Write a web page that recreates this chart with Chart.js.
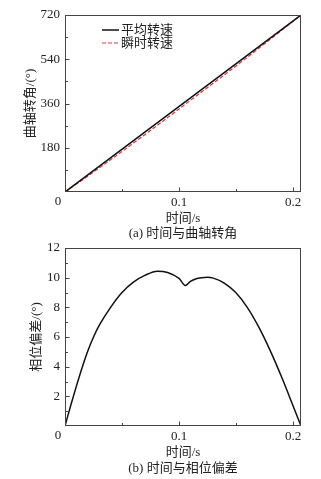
<!DOCTYPE html>
<html><head><meta charset="utf-8">
<script src="https://cdn.jsdelivr.net/npm/chart.js@4.4.0/dist/chart.umd.min.js"></script>
<style>
html,body{margin:0;padding:0;background:#fff;width:321px;height:479px;overflow:hidden;}
.wrap{position:absolute;left:0;width:321px;}
canvas{display:block;}
.cap{position:absolute;left:0;width:366px;text-align:center;font:13px "Liberation Serif","Noto Sans CJK SC";line-height:16px;color:#222;}
</style></head><body>
<div class="wrap" style="top:0;height:226px"><canvas id="c1" width="321" height="226"></canvas></div>
<div class="cap" style="top:225px">(a) 时间与曲轴转角</div>
<div class="wrap" style="top:234px;height:226px"><canvas id="c2" width="321" height="226"></canvas></div>
<div class="cap" style="top:460px">(b) 时间与相位偏差</div>
<script>
// ---- data ----
const xMajorTicks = [0.1, 0.2];
const xMinorTicks = [0.05, 0.15];
const angleMajorTicks = [180, 360, 540, 720];
const angleMinorTicks = [90, 270, 450, 630];
const devMajorTicks = [2, 4, 6, 8, 10, 12];
const devMinorTicks = [1, 3, 5, 7, 9, 11];

const avgTime = [0, 0.207];
const avgAngle = [0, 720];

const sampleTime = [0,0.005,0.01,0.015,0.02,0.025,0.03,0.04,0.05,0.06,0.07,0.081,0.09,0.1,0.1055,0.11,0.115,0.12,0.125,0.13,0.14,0.15,0.16,0.17,0.18,0.19,0.2,0.207];
const instAngle = [0,16.0,32.1,48.2,64.5,81.0,97.6,131.1,164.9,199.0,233.3,271.3,302.7,337.9,357.5,372.9,390.1,407.4,424.8,442.2,477.3,512.8,548.5,584.6,621.0,657.6,694.3,720];
const phaseDev = [0,1.38,2.69,3.93,5.05,6.0,6.78,8.0,9.0,9.7,10.15,10.44,10.35,9.95,9.47,9.75,9.93,10.0,10.02,9.97,9.62,8.98,7.98,6.66,5.08,3.3,1.37,0];

const legendLabels = ['平均转速', '瞬时转速'];

// ---- helpers ----
const FONT = '"Liberation Serif", "Noto Sans CJK SC", serif';
const TXT = '#222';
const pts = (xs, ys) => xs.map((x, i) => ({x, y: ys[i]}));

const framePlugin = {
  id: 'frame',
  afterDraw(chart, args, o) {
    const {ctx, chartArea: a, scales: {x, y}} = chart;
    ctx.save();
    ctx.strokeStyle = '#444';
    ctx.lineWidth = 1;
    const L = Math.round(a.left) + 0.5, R = Math.round(a.right) - 0.5;
    const T = Math.round(a.top) + 0.5, B = Math.round(a.bottom) - 0.5;
    ctx.strokeRect(L, T, R - L, B - T);
    ctx.beginPath();
    o.xMajor.forEach(v => { const p = Math.round(x.getPixelForValue(v)) + 0.5; ctx.moveTo(p, B); ctx.lineTo(p, B - 4); });
    o.xMinor.forEach(v => { const p = Math.round(x.getPixelForValue(v)) + 0.5; ctx.moveTo(p, B); ctx.lineTo(p, B - 2.5); });
    o.yMajor.forEach(v => { const p = Math.round(y.getPixelForValue(v)) + 0.5; ctx.moveTo(L, p); ctx.lineTo(L + 4, p); });
    o.yMinor.forEach(v => { const p = Math.round(y.getPixelForValue(v)) + 0.5; ctx.moveTo(L, p); ctx.lineTo(L + 2.5, p); });
    ctx.stroke();
    ctx.fillStyle = TXT;
    ctx.font = '13px ' + FONT;
    ctx.textAlign = 'center';
    ctx.textBaseline = 'middle';
    ctx.fillText('0', a.left - 7, a.bottom + 10);
    if (o.legend) {
      const lx = a.left + 37, tx = a.left + 56;
      const rows = [a.top + 15, a.top + 28];
      ctx.textAlign = 'left';
      ctx.lineWidth = 1.5;
      ctx.strokeStyle = '#111';
      ctx.setLineDash([]);
      ctx.beginPath(); ctx.moveTo(lx, rows[0]); ctx.lineTo(lx + 17, rows[0]); ctx.stroke();
      ctx.strokeStyle = '#e0363a';
      ctx.lineWidth = 1.2;
      ctx.setLineDash([4, 2]);
      ctx.beginPath(); ctx.moveTo(lx, rows[1]); ctx.lineTo(lx + 17, rows[1]); ctx.stroke();
      ctx.setLineDash([]);
      ctx.fillText(o.legend[0], tx, rows[0] + 1);
      ctx.fillText(o.legend[1], tx, rows[1] + 1);
    }
    ctx.restore();
  }
};

function makeScales(yMin, yMax, yMajor, yMinor, yTitle, yTitlePad) {
  return {
    x: {
      type: 'linear', min: 0, max: 0.207,
      afterFit(s) { s.height = 34; },
      afterBuildTicks(s) { s.ticks = [0].concat(xMinorTicks, xMajorTicks).sort((a,b)=>a-b).map(v => ({value: v})); },
      ticks: { autoSkip: false, maxRotation: 0, padding: 3, color: TXT, font: {family: FONT, size: 13},
        callback: v => xMajorTicks.includes(v) ? String(v) : '' },
      grid: { display: false, drawTicks: false }, border: { display: false },
      title: { display: true, text: '时间/s', color: TXT, font: {family: FONT, size: 13}, padding: {top: 1, bottom: 0} }
    },
    y: {
      type: 'linear', min: yMin, max: yMax,
      afterFit(s) { s.width = 65; },
      afterBuildTicks(s) { s.ticks = [yMin].concat(yMinor, yMajor).sort((a,b)=>a-b).map(v => ({value: v})); },
      ticks: { autoSkip: false, padding: 5, color: TXT, font: {family: FONT, size: 13},
        callback: v => yMajor.includes(v) ? String(v) : '' },
      grid: { display: false, drawTicks: false }, border: { display: false },
      title: { display: true, text: yTitle, color: TXT, font: {family: FONT, size: 13}, padding: {top: yTitlePad, bottom: 0} }
    }
  };
}

Chart.defaults.animation = false;

new Chart(document.getElementById('c1'), {
  type: 'line',
  data: { datasets: [
    { label: legendLabels[0], data: pts(avgTime, avgAngle), borderColor: '#111', borderWidth: 1.5, pointRadius: 0, tension: 0 },
    { label: legendLabels[1], data: pts(sampleTime, instAngle), borderColor: '#e0363a', borderWidth: 1.2, borderDash: [4, 2], pointRadius: 0, tension: 0 }
  ]},
  options: {
    responsive: false, animation: false,
    layout: { padding: { top: 15, right: 20, left: 0, bottom: 0 } },
    plugins: { legend: { display: false }, tooltip: { enabled: false },
      frame: { xMajor: xMajorTicks, xMinor: xMinorTicks, yMajor: angleMajorTicks, yMinor: angleMinorTicks, legend: legendLabels } },
    scales: makeScales(0, 720, angleMajorTicks, angleMinorTicks, '曲轴转角/(°)', 23)
  },
  plugins: [framePlugin]
});

new Chart(document.getElementById('c2'), {
  type: 'line',
  data: { datasets: [
    { label: '相位偏差', data: pts(sampleTime, phaseDev), borderColor: '#111', borderWidth: 1.5, pointRadius: 0, cubicInterpolationMode: 'monotone' }
  ]},
  options: {
    responsive: false, animation: false,
    layout: { padding: { top: 14, right: 20, left: 0, bottom: 0 } },
    plugins: { legend: { display: false }, tooltip: { enabled: false },
      frame: { xMajor: xMajorTicks, xMinor: xMinorTicks, yMajor: devMajorTicks, yMinor: devMinorTicks } },
    scales: makeScales(0, 12, devMajorTicks, devMinorTicks, '相位偏差/(°)', 29)
  },
  plugins: [framePlugin]
});
</script>
</body></html>
